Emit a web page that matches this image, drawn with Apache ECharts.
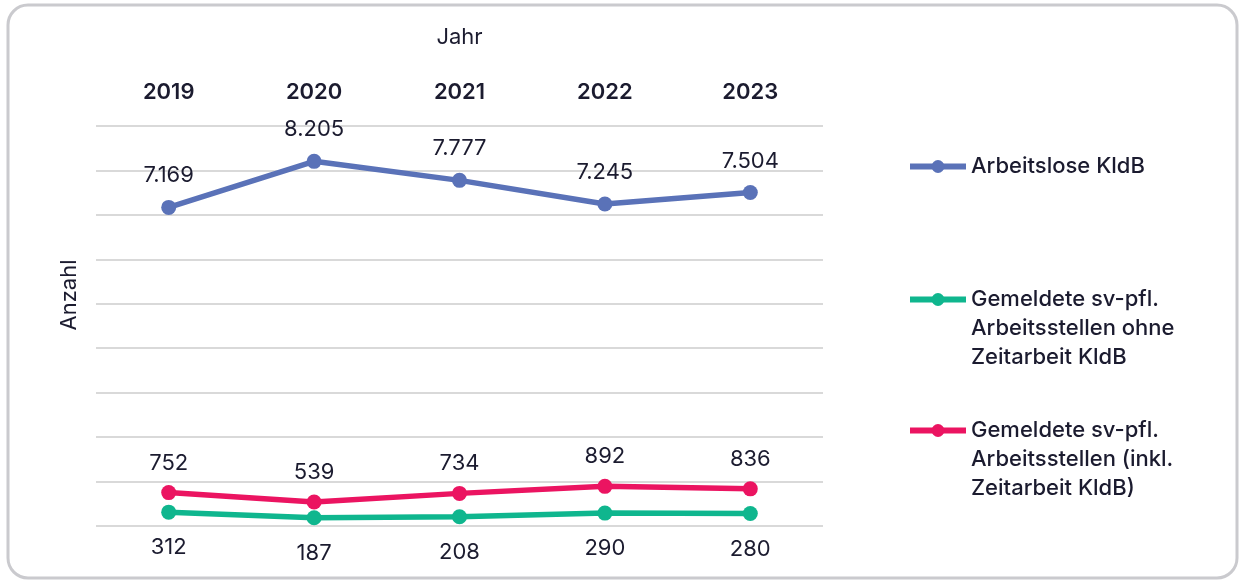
<!DOCTYPE html>
<html>
<head>
<meta charset="utf-8">
<script src="https://cdn.jsdelivr.net/npm/echarts@6/dist/echarts.min.js"></script>
<style>
  html, body { margin: 0; padding: 0; background: #fff; }
  #chart { width: 1241px; height: 580px; }
</style>
</head>
<body>
<div id="chart"></div>
<script>
// Daten
const jahre = ['2019', '2020', '2021', '2022', '2023'];
const arbeitslose = [7169, 8205, 7777, 7245, 7504];
const stellenOhneZA = [312, 187, 208, 290, 280];
const stellenInklZA = [752, 539, 734, 892, 836];

const nameArbeitslose = 'Arbeitslose KldB';
const nameOhne = 'Gemeldete sv-pfl.\nArbeitsstellen ohne\nZeitarbeit KldB';
const nameInkl = 'Gemeldete sv-pfl.\nArbeitsstellen (inkl.\nZeitarbeit KldB)';

const textColor = '#1b1b2f';
const fontFamily = 'Inter, "Noto Sans", sans-serif';

// deutsche Tausendertrennung
const fmt = (v) => String(v).replace(/\B(?=(\d{3})+(?!\d))/g, '.');

const chart = echarts.init(document.getElementById('chart'));

// eigene Legende je Eintrag, damit das Symbol auf Höhe der ersten Zeile sitzt
function legendItem(name, top, color, multi) {
    return {
        orient: 'vertical',
        left: 907,
        top: top,
        padding: 0,
        itemWidth: 56,
        itemHeight: 16,
        itemGap: 0,
        data: [name],
        formatter: (n) => multi ? '\n\n' + n : n,
        lineStyle: { width: 6, color: color },
        itemStyle: { color: color },
        textStyle: {
            color: textColor,
            fontFamily: fontFamily,
            fontSize: 22,
            fontWeight: 500,
            lineHeight: 29
        }
    };
}

function lineSeries(name, data, color, pos, dist) {
    return {
        name: name,
        type: 'line',
        data: data,
        symbol: 'circle',
        symbolSize: 15,
        lineStyle: { width: 5.5, color: color },
        itemStyle: { color: color },
        label: {
            show: true,
            position: pos,
            distance: dist,
            formatter: (p) => fmt(p.value),
            color: textColor,
            fontFamily: fontFamily,
            fontSize: 22
        }
    };
}

const option = {
    animation: false,
    textStyle: { fontFamily: fontFamily },
    graphic: [{
        type: 'rect',
        shape: { x: 8, y: 5, width: 1229, height: 573, r: 20 },
        style: { fill: 'none', stroke: '#cacace', lineWidth: 3 },
        silent: true
    }],
    legend: [
        legendItem(nameArbeitslose, 152, '#5a72b8', false),
        legendItem(nameOhne, 227, '#0fb68e', true),
        legendItem(nameInkl, 358, '#eb1461', true)
    ],
    grid: { left: 96, right: 418, top: 126, bottom: 54 },
    xAxis: {
        type: 'category',
        position: 'top',
        data: jahre,
        name: 'Jahr',
        nameLocation: 'middle',
        nameGap: 78,
        nameTextStyle: { color: textColor, fontSize: 22 },
        axisLine: { show: false },
        axisTick: { show: false },
        axisLabel: {
            margin: 23,
            color: textColor,
            fontSize: 22,
            fontWeight: 600
        }
    },
    yAxis: {
        type: 'value',
        min: 0,
        max: 9000,
        interval: 1000,
        name: 'Anzahl',
        nameLocation: 'middle',
        nameGap: 16,
        nameTextStyle: { color: textColor, fontSize: 22, padding: [0, 0, 0, 62] },
        axisLabel: { show: false },
        axisLine: { show: false },
        axisTick: { show: false },
        splitLine: { lineStyle: { color: '#d9d9d9', width: 2 } }
    },
    series: [
        lineSeries(nameArbeitslose, arbeitslose, '#5a72b8', 'top', 13),
        lineSeries(nameOhne, stellenOhneZA, '#0fb68e', 'bottom', 17),
        lineSeries(nameInkl, stellenInklZA, '#eb1461', 'top', 11)
    ]
};

chart.setOption(option);
</script>
</body>
</html>
